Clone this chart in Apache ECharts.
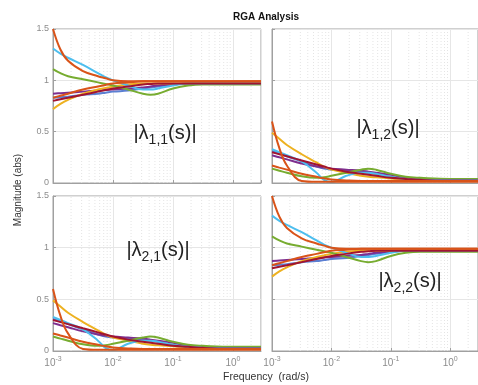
<!DOCTYPE html>
<html>
<head>
<meta charset="utf-8">
<script src="https://cdn.jsdelivr.net/npm/echarts@6/dist/echarts.min.js"></script>
<style>html,body{margin:0;padding:0;background:#fff;}#c{width:478px;height:385px;}</style>
</head>
<body>
<div id="c"></div>
<script>
// Frequencies (rad/s) at which the curves are sampled
const freqs = [0.001, 0.00133, 0.00178, 0.00316, 0.00562, 0.0075, 0.01, 0.0178, 0.0316, 0.0422, 0.0562, 0.1, 0.178, 0.316, 1, 2.93];
const xTickDecades = [-3, -2, -1, 0];
const yTicks = [0, 0.5, 1, 1.5];

// |lambda_11(s)| (and |lambda_22(s)|, identical in the picture)
const l11Blue      = [0.83, 0.835, 0.84, 0.86, 0.87, 0.88, 0.89, 0.9, 0.92, 0.93, 0.94, 0.96, 0.97, 0.97, 0.97, 0.97];
const l11Purple    = [0.87, 0.875, 0.88, 0.89, 0.9, 0.905, 0.91, 0.92, 0.93, 0.94, 0.95, 0.96, 0.97, 0.97, 0.97, 0.97];
const l11Yellow    = [0.72, 0.77, 0.81, 0.87, 0.91, 0.925, 0.94, 0.96, 0.97, 0.97, 0.97, 0.97, 0.97, 0.97, 0.97, 0.97];
const l11Green     = [1.11, 1.07, 1.04, 1.01, 0.98, 0.965, 0.95, 0.91, 0.87, 0.86, 0.87, 0.92, 0.95, 0.96, 0.96, 0.96];
const l11LightBlue = [1.31, 1.26, 1.22, 1.15, 1.07, 1.03, 1.0, 0.95, 0.91, 0.91, 0.92, 0.95, 0.97, 0.97, 0.97, 0.97];
const l11DarkRed   = [0.8, 0.815, 0.83, 0.86, 0.89, 0.905, 0.92, 0.94, 0.96, 0.965, 0.97, 0.97, 0.97, 0.97, 0.97, 0.97];
const l11Orange2   = [0.83, 0.85, 0.87, 0.91, 0.94, 0.955, 0.97, 0.98, 0.99, 0.99, 0.99, 0.99, 0.99, 0.99, 0.99, 0.99];
const l11Orange1   = [1.5, 1.3, 1.19, 1.09, 1.04, 1.02, 1.0, 0.99, 0.99, 0.99, 0.99, 0.99, 0.99, 0.99, 0.99, 0.99];

// |lambda_12(s)| (and |lambda_21(s)|, identical in the picture)
const l12Blue      = [0.31, 0.29, 0.26, 0.21, 0.16, 0.14, 0.13, 0.12, 0.11, 0.1, 0.09, 0.06, 0.04, 0.03, 0.03, 0.03];
const l12Purple    = [0.27, 0.25, 0.23, 0.19, 0.16, 0.15, 0.14, 0.13, 0.12, 0.11, 0.1, 0.08, 0.05, 0.04, 0.03, 0.03];
const l12Yellow    = [0.49, 0.43, 0.37, 0.28, 0.2, 0.16, 0.13, 0.1, 0.07, 0.06, 0.055, 0.045, 0.035, 0.03, 0.03, 0.03];
const l12Green     = [0.14, 0.12, 0.1, 0.065, 0.05, 0.055, 0.07, 0.1, 0.13, 0.14, 0.13, 0.09, 0.06, 0.05, 0.04, 0.04];
const l12LightBlue = [0.33, 0.3, 0.27, 0.21, 0.1, 0.03, 0.01, 0.07, 0.1, 0.1, 0.09, 0.06, 0.04, 0.03, 0.03, 0.03];
const l12DarkRed   = [0.3, 0.28, 0.26, 0.22, 0.18, 0.16, 0.14, 0.11, 0.09, 0.08, 0.07, 0.05, 0.04, 0.03, 0.025, 0.025];
const l12Orange2   = [0.17, 0.15, 0.13, 0.09, 0.06, 0.045, 0.035, 0.025, 0.02, 0.02, 0.02, 0.02, 0.02, 0.02, 0.02, 0.02];
const l12Orange1   = [0.6, 0.34, 0.17, 0.02, 0.012, 0.012, 0.012, 0.012, 0.012, 0.012, 0.012, 0.012, 0.012, 0.012, 0.012, 0.012];

const colors = {
  blue: '#5b7fd2', purple: '#7E2F8E', yellow: '#EDB120', green: '#77AC30',
  lightBlue: '#4DBEEE', darkRed: '#A2142F', orange: '#D95319'
};

const set11 = [
  [l11Blue, colors.blue], [l11Purple, colors.purple], [l11Yellow, colors.yellow],
  [l11Green, colors.green], [l11LightBlue, colors.lightBlue], [l11DarkRed, colors.darkRed],
  [l11Orange2, colors.orange], [l11Orange1, colors.orange]
];
const set12 = [
  [l12Blue, colors.blue], [l12Purple, colors.purple], [l12Yellow, colors.yellow],
  [l12Green, colors.green], [l12LightBlue, colors.lightBlue], [l12DarkRed, colors.darkRed],
  [l12Orange2, colors.orange], [l12Orange1, colors.orange]
];
const panelSets = [set11, set12, set12, set11];

// minor log grid values (2..9 x 10^d)
const minorVals = [];
xTickDecades.forEach(function (d) {
  for (let k = 2; k <= 9; k++) {
    const v = k * Math.pow(10, d);
    if (v < 2.93) minorVals.push(v);
  }
});
const minorGridData = [];
minorVals.forEach(function (v) {
  minorGridData.push([v, yTicks[0]], [v, yTicks[yTicks.length - 1]], [v, '-']);
});

const FONT = 'Liberation Sans, Arial, sans-serif';
const grids = [
  { left: 53, top: 29, width: 208, height: 154 },
  { left: 272, top: 29, width: 208, height: 154 },
  { left: 53, top: 196, width: 208, height: 155 },
  { left: 272, top: 196, width: 208, height: 155 }
];

function xLabelFmt(v) {
  const lv = Math.log10(v);
  const e = Math.round(lv);
  if (Math.abs(lv - e) > 0.01) return '';
  return '{b|10}{e|' + e + '}';
}

const xAxes = grids.map(function (g, i) {
  const bottom = i >= 2;
  return {
    type: 'log', logBase: 10, gridIndex: i, min: 0.001, max: 2.93,
    axisLine: { show: true, lineStyle: { color: '#a0a0a0', width: 1 } },
    axisTick: { show: true, inside: true, length: 3, lineStyle: { color: '#a0a0a0' } },
    axisLabel: {
      show: bottom, margin: 4, formatter: xLabelFmt, showMaxLabel: false,
      rich: {
        b: { fontSize: 10, color: '#8c8c8c', fontFamily: FONT, lineHeight: 16 },
        e: { fontSize: 7, color: '#8c8c8c', fontFamily: FONT, lineHeight: 8, padding: [0, 0, 8, 0] }
      }
    },
    splitLine: { show: true, lineStyle: { color: '#e6e6e6', width: 1 } }
  };
});

const yAxes = grids.map(function (g, i) {
  const left = (i % 2) === 0;
  return {
    type: 'value', gridIndex: i, min: yTicks[0], max: yTicks[yTicks.length - 1], interval: 0.5,
    axisLine: { show: true, lineStyle: { color: '#a0a0a0', width: 1 } },
    axisTick: { show: true, inside: true, length: 3, lineStyle: { color: '#a0a0a0' } },
    axisLabel: { show: left, margin: 4, fontSize: 9, color: '#8c8c8c', fontFamily: FONT },
    splitLine: { show: true, lineStyle: { color: '#e6e6e6', width: 1 } }
  };
});

const series = [];
panelSets.forEach(function (set, gi) {
  series.push({
    type: 'line', xAxisIndex: gi, yAxisIndex: gi, z: 1, silent: true,
    data: minorGridData, connectNulls: false, showSymbol: false, symbol: 'none',
    lineStyle: { type: [1, 2], color: '#e4e4e4', width: 1 }
  });
  set.forEach(function (pair) {
    series.push({
      type: 'line', xAxisIndex: gi, yAxisIndex: gi, z: 2,
      data: freqs.map(function (f, k) { return [f, pair[0][k]]; }),
      smooth: 0.4, showSymbol: false, symbol: 'none',
      lineStyle: { color: pair[1], width: 2 },
      itemStyle: { color: pair[1] },
      silent: true
    });
  });
});

function lamText(sub, x, y) {
  return {
    type: 'text', x: x, y: y, z: 100,
    style: {
      text: '{m||λ}{s|' + sub + '}{m|(s)|}',
      align: 'center', verticalAlign: 'top',
      rich: {
        m: { fontSize: 20, fontFamily: FONT, fill: '#222', color: '#222', lineHeight: 24 },
        s: { fontSize: 14, fontFamily: FONT, fill: '#222', color: '#222', lineHeight: 16, padding: [15, 0, 0, 0] }
      }
    }
  };
}

const chart = echarts.init(document.getElementById('c'), null, { renderer: 'canvas' });
chart.setOption({
  animation: false,
  backgroundColor: '#ffffff',
  grid: grids.map(function (g) {
    return Object.assign({ show: true, borderColor: '#a0a0a0', borderWidth: 1, backgroundColor: '#fff', containLabel: false }, g);
  }),
  xAxis: xAxes,
  yAxis: yAxes,
  series: series,
  graphic: [
    { type: 'text', x: 266, y: 17, style: { text: 'RGA Analysis', fontSize: 10, fontWeight: 'bold', fontFamily: FONT, fill: '#111', align: 'center', verticalAlign: 'middle' } },
    { type: 'text', x: 266, y: 377, style: { text: 'Frequency  (rad/s)', fontSize: 10.5, fontFamily: FONT, fill: '#333', align: 'center', verticalAlign: 'middle' } },
    { type: 'text', x: 18, y: 190, rotation: Math.PI / 2, style: { text: 'Magnitude (abs)', fontSize: 10, fontFamily: FONT, fill: '#333', align: 'center', verticalAlign: 'middle' } },
    lamText('1,1', 165, 121),
    lamText('1,2', 388, 116),
    lamText('2,1', 158, 238),
    lamText('2,2', 410, 269)
  ]
});
</script>
</body>
</html>
